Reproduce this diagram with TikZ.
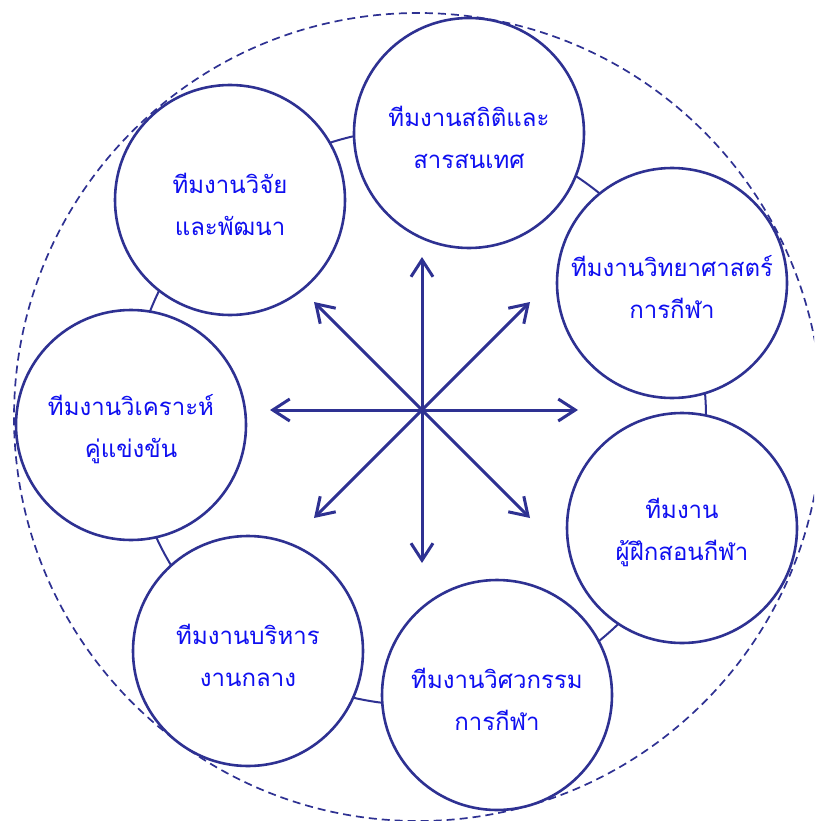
\documentclass[tikz,border=0pt]{standalone}
\usepackage{fontspec}
\newfontfamily\thaifont[Script=Thai]{Loma}
\usetikzlibrary{arrows.meta}
\definecolor{navy}{RGB}{46,49,146}
\definecolor{txtblue}{RGB}{15,15,240}
\begin{document}
\begin{tikzpicture}[x=1pt,y=-1pt,
  team/.style={circle, draw=navy, line width=2.6pt, fill=white, minimum size=230pt, inner sep=0pt},
  teamtext/.style={align=center, text=txtblue, inner sep=0pt, yshift=-4pt, font=\thaifont\fontsize{24}{42}\selectfont},
  ringline/.style={draw=navy, line width=2pt},
  outerdash/.style={draw=navy, line width=1.7pt, dash pattern=on 8pt off 5pt},
  spoke/.style={draw=navy, line width=3pt, {Straight Barb[length=17pt,width=22pt]}-{Straight Barb[length=17pt,width=22pt]}}]
\useasboundingbox (0,0) rectangle (814,821);
\clip (0,0) rectangle (814,821);
\draw[outerdash] (418,417) circle[radius=404];
\draw[ringline] (418,417) circle[radius=288];
\node[team] (t1) at (469,133) {};
\node[team] (t2) at (672,283) {};
\node[team] (t3) at (682,528) {};
\node[team] (t4) at (497,695) {};
\node[team] (t5) at (248,651) {};
\node[team] (t6) at (131,425) {};
\node[team] (t7) at (230,200) {};
\node[teamtext] (l1) at (t1.center) {ทีมงานสถิติและ\\สารสนเทศ};
\node[teamtext] (l2) at (t2.center) {ทีมงานวิทยาศาสตร์\\การกีฬา};
\node[teamtext] (l3) at (t3.center) {ทีมงาน\\ผู้ฝึกสอนกีฬา};
\node[teamtext] (l4) at (t4.center) {ทีมงานวิศวกรรม\\การกีฬา};
\node[teamtext] (l5) at (t5.center) {ทีมงานบริหาร\\งานกลาง};
\node[teamtext] (l6) at (t6.center) {ทีมงานวิเคราะห์\\คู่แข่งขัน};
\node[teamtext] (l7) at (t7.center) {ทีมงานวิจัย\\และพัฒนา};
\coordinate (up) at (422,257);
\coordinate (down) at (422,563);
\coordinate (left) at (270,410);
\coordinate (right) at (578,410);
\coordinate (ul) at (314,302);
\coordinate (dr) at (530,518);
\coordinate (ur) at (530,302);
\coordinate (dl) at (314,518);
\draw[spoke] (up) -- (down);
\draw[spoke] (left) -- (right);
\draw[spoke] (ul) -- (dr);
\draw[spoke] (ur) -- (dl);
\end{tikzpicture}
\end{document}
